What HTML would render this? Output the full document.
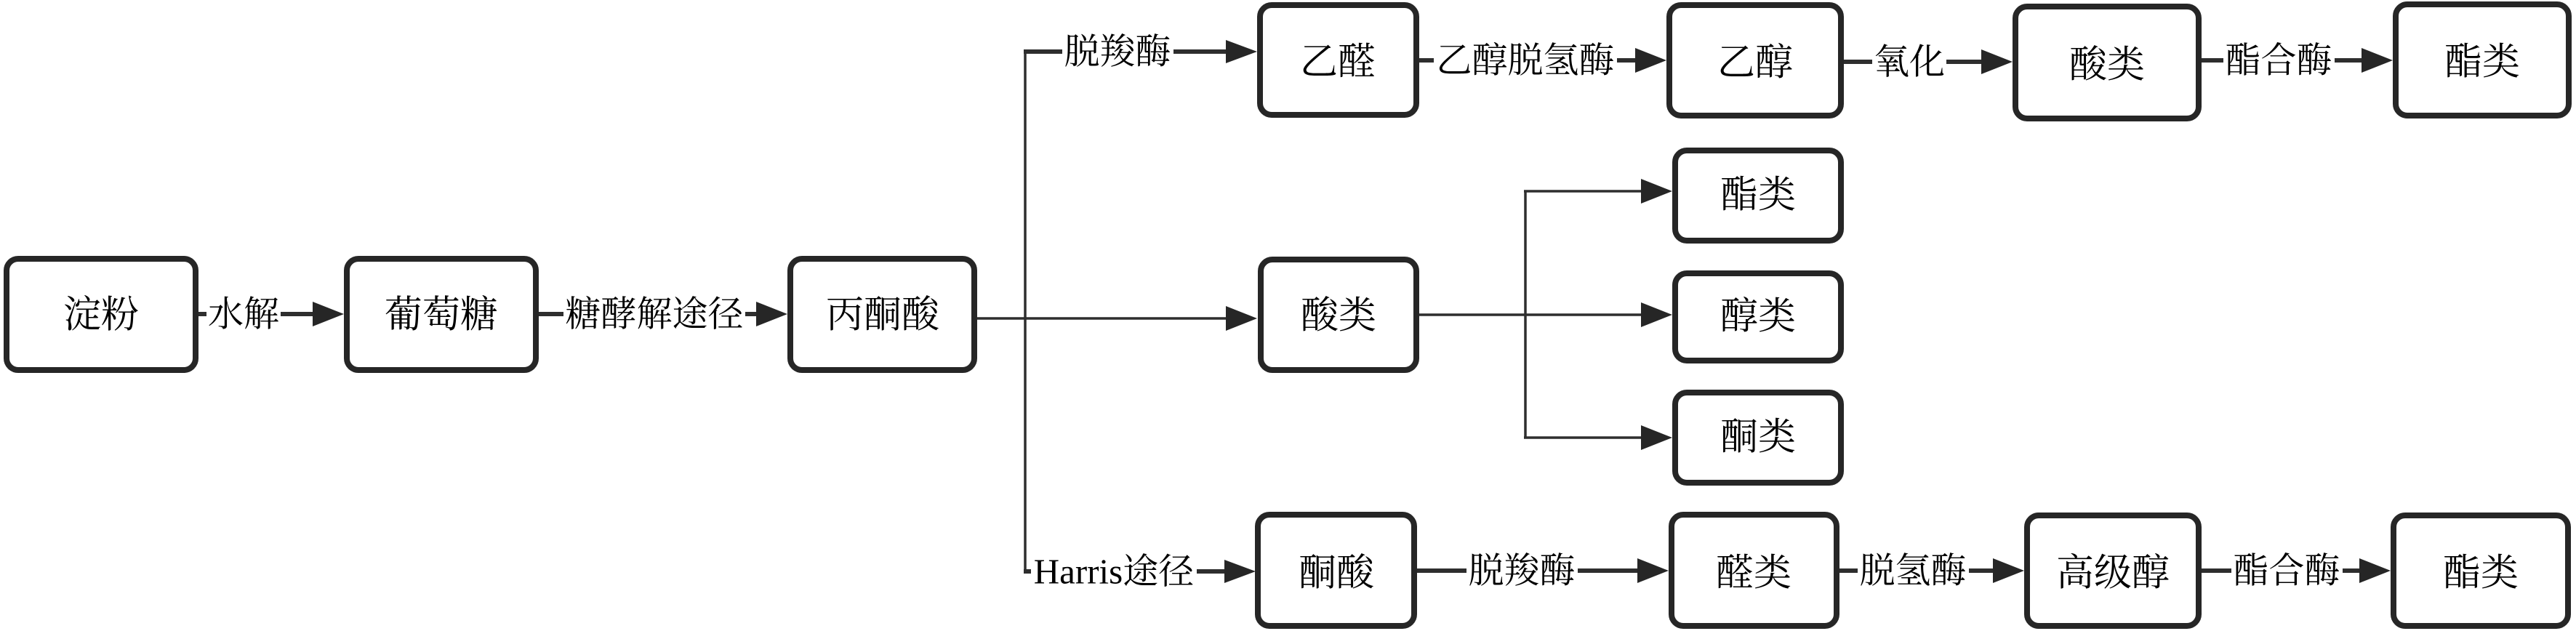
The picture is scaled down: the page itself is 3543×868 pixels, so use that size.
<!DOCTYPE html>
<html>
<head>
<meta charset="utf-8">
<style>
html,body{margin:0;padding:0;background:#fff;}
svg{display:block;}
text{font-family:"Liberation Serif","Noto Serif CJK SC",serif;fill:#000;}
.bx{fill:#fff;stroke:#262626;stroke-width:8;}
.ln{stroke:#2e2e2e;stroke-width:6;fill:none;}
.tn{stroke:#2e2e2e;stroke-width:3.5;fill:none;}
.ah{fill:#262626;}
.lb{font-size:49px;}
.nt{font-size:52px;}
</style>
</head>
<body>
<svg width="3543" height="868" viewBox="0 0 3543 868" xmlns="http://www.w3.org/2000/svg">
<!-- main row -->
<line class="ln" x1="273" y1="432" x2="435" y2="432"/>
<polygon class="ah" points="473,432 430,415 430,449"/>
<line class="ln" x1="741" y1="432" x2="1045" y2="432"/>
<polygon class="ah" points="1083,432 1040,415 1040,449"/>
<line class="tn" x1="1344" y1="438" x2="1690" y2="438"/>
<polygon class="ah" points="1729,438 1686,421 1686,455"/>
<!-- vertical split -->
<line class="tn" x1="1410" y1="71" x2="1410" y2="786"/>
<line class="ln" x1="1408" y1="71" x2="1690" y2="71"/>
<polygon class="ah" points="1729,71 1686,55 1686,87"/>
<line class="ln" x1="1408" y1="786" x2="1690" y2="786"/>
<polygon class="ah" points="1727,786 1684,770 1684,802"/>
<!-- middle acid fanout -->
<line class="tn" x1="1952" y1="433" x2="2262" y2="433"/>
<line class="tn" x1="2098" y1="263" x2="2098" y2="602"/>
<line class="tn" x1="2096" y1="263" x2="2262" y2="263"/>
<line class="tn" x1="2096" y1="602" x2="2262" y2="602"/>
<polygon class="ah" points="2300,263 2257,246 2257,280"/>
<polygon class="ah" points="2300,433 2257,416 2257,450"/>
<polygon class="ah" points="2300,602 2257,585 2257,619"/>
<!-- top row -->
<line class="ln" x1="1952" y1="83" x2="2255" y2="83"/>
<polygon class="ah" points="2292,83 2249,66 2249,100"/>
<line class="ln" x1="2536" y1="85" x2="2730" y2="85"/>
<polygon class="ah" points="2768,85 2725,68 2725,102"/>
<line class="ln" x1="3028" y1="83" x2="3253" y2="83"/>
<polygon class="ah" points="3291,83 3248,66 3248,100"/>
<!-- bottom row -->
<line class="ln" x1="1949" y1="785" x2="2258" y2="785"/>
<polygon class="ah" points="2295,785 2252,768 2252,802"/>
<line class="ln" x1="2530" y1="785" x2="2746" y2="785"/>
<polygon class="ah" points="2784,785 2741,768 2741,802"/>
<line class="ln" x1="3028" y1="785" x2="3250" y2="785"/>
<polygon class="ah" points="3288,785 3245,768 3245,802"/>

<!-- label backgrounds -->
<g fill="#fff">
<rect x="284" y="405" width="102" height="56"/>
<rect x="775" y="405" width="250" height="56"/>
<rect x="1461" y="44" width="153" height="56"/>
<rect x="1418" y="758" width="228" height="56"/>
<rect x="1972" y="56" width="252" height="56"/>
<rect x="2575" y="58" width="102" height="56"/>
<rect x="3058" y="56" width="153" height="56"/>
<rect x="2017" y="758" width="153" height="56"/>
<rect x="2555" y="758" width="153" height="56"/>
<rect x="3069" y="758" width="153" height="56"/>
</g>

<!-- labels -->
<g class="lb" text-anchor="middle" dominant-baseline="central">
<text x="335" y="432">水解</text>
<text x="900" y="432">糖酵解途径</text>
<text x="1537" y="71">脱羧酶</text>
<text x="1532" y="786">Harris途径</text>
<text x="2098" y="83">乙醇脱氢酶</text>
<text x="2626" y="85">氧化</text>
<text x="3134" y="83">酯合酶</text>
<text x="2093" y="785">脱羧酶</text>
<text x="2631" y="785">脱氢酶</text>
<text x="3145" y="785">酯合酶</text>
</g>

<!-- boxes -->
<rect class="bx" x="9" y="356" width="260" height="153" rx="16"/>
<rect class="bx" x="477" y="356" width="260" height="153" rx="16"/>
<rect class="bx" x="1087" y="356" width="253" height="153" rx="16"/>
<rect class="bx" x="1734" y="357" width="214" height="152" rx="16"/>
<rect class="bx" x="2304" y="207" width="228" height="124" rx="16"/>
<rect class="bx" x="2304" y="376" width="228" height="120" rx="16"/>
<rect class="bx" x="2304" y="540" width="228" height="124" rx="16"/>
<rect class="bx" x="1733" y="7" width="215" height="151" rx="16"/>
<rect class="bx" x="2296" y="7" width="236" height="152" rx="16"/>
<rect class="bx" x="2772" y="9" width="252" height="154" rx="16"/>
<rect class="bx" x="3295" y="6" width="238" height="153" rx="16"/>
<rect class="bx" x="1730" y="708" width="215" height="153" rx="16"/>
<rect class="bx" x="2299" y="708" width="227" height="153" rx="16"/>
<rect class="bx" x="2788" y="709" width="236" height="152" rx="16"/>
<rect class="bx" x="3292" y="709" width="240" height="152" rx="16"/>

<!-- node text -->
<g class="nt" text-anchor="middle" dominant-baseline="central">
<text x="139" y="434">淀粉</text>
<text x="607" y="434">葡萄糖</text>
<text x="1214" y="434">丙酮酸</text>
<text x="1841" y="435">酸类</text>
<text x="2418" y="269">酯类</text>
<text x="2418" y="436">醇类</text>
<text x="2418" y="602">酮类</text>
<text x="1840" y="86">乙醛</text>
<text x="2414" y="87">乙醇</text>
<text x="2898" y="90">酸类</text>
<text x="3414" y="86">酯类</text>
<text x="1838" y="789">酮酸</text>
<text x="2412" y="789">醛类</text>
<text x="2906" y="789">高级醇</text>
<text x="3412" y="789">酯类</text>
</g>
</svg>
</body>
</html>
